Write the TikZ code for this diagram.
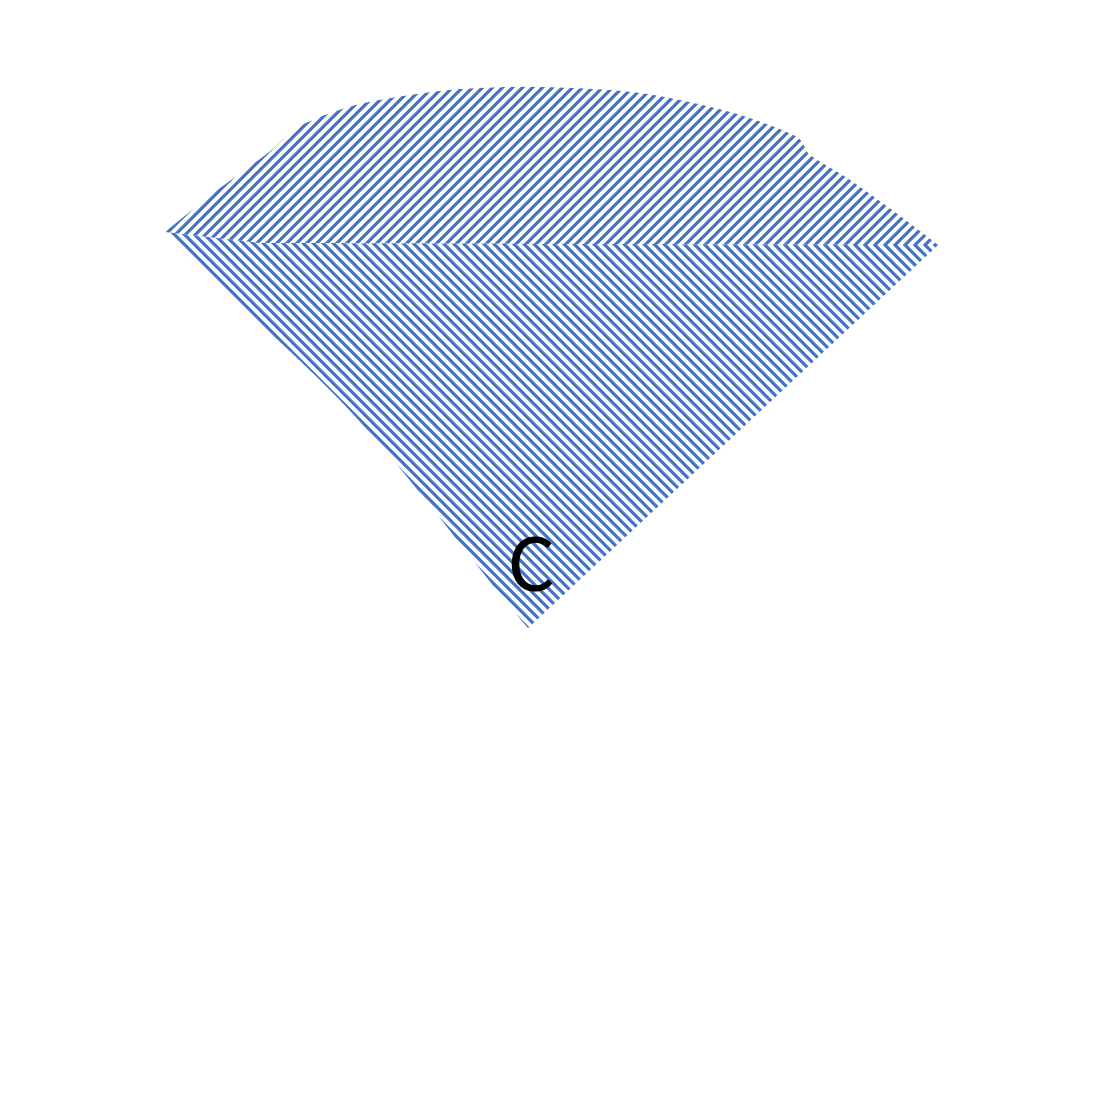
\documentclass[tikz,border=0pt]{standalone}
\usepackage{fontspec}
\setmainfont{Carlito}
\definecolor{hatchblue}{RGB}{68,114,196}
\tikzset{
  hatch/.style={draw=hatchblue,line width=3pt},
  lbl/.style={font=\fontsize{84}{84}\selectfont,text=black,inner sep=0pt}
}
\begin{document}
\begin{tikzpicture}[x=1pt,y=-1pt]
\useasboundingbox (0,0) rectangle (1102,1098);
% upper part (north-east lines)
\begin{scope}
\clip plot[smooth,tension=0.5] coordinates {(165,232) (215,192) (268,153) (300,126) (360,104) (450,90) (540,87) (640,93) (730,112) (795,136) (810,155) (850,180) (900,216) (938,245)} -- (260,243) -- (165,232) -- cycle;
\foreach \c in {200,210,...,1250} {\draw[hatch] (\c,0) -- (\c-1100,1100);}
\end{scope}
% lower part (north-west lines)
\begin{scope}
\clip (165,232) -- (260,243) -- (938,245) -- (528,628) .. controls (470,560) and (400,460) .. (330,390) .. controls (270,330) and (210,280) .. (165,232) -- cycle;
\foreach \c in {-200,-190,...,760} {\draw[hatch] (\c,0) -- (\c+1100,1100);}
\end{scope}
\node[lbl] (c) at (532,565) {C};
\end{tikzpicture}
\end{document}
